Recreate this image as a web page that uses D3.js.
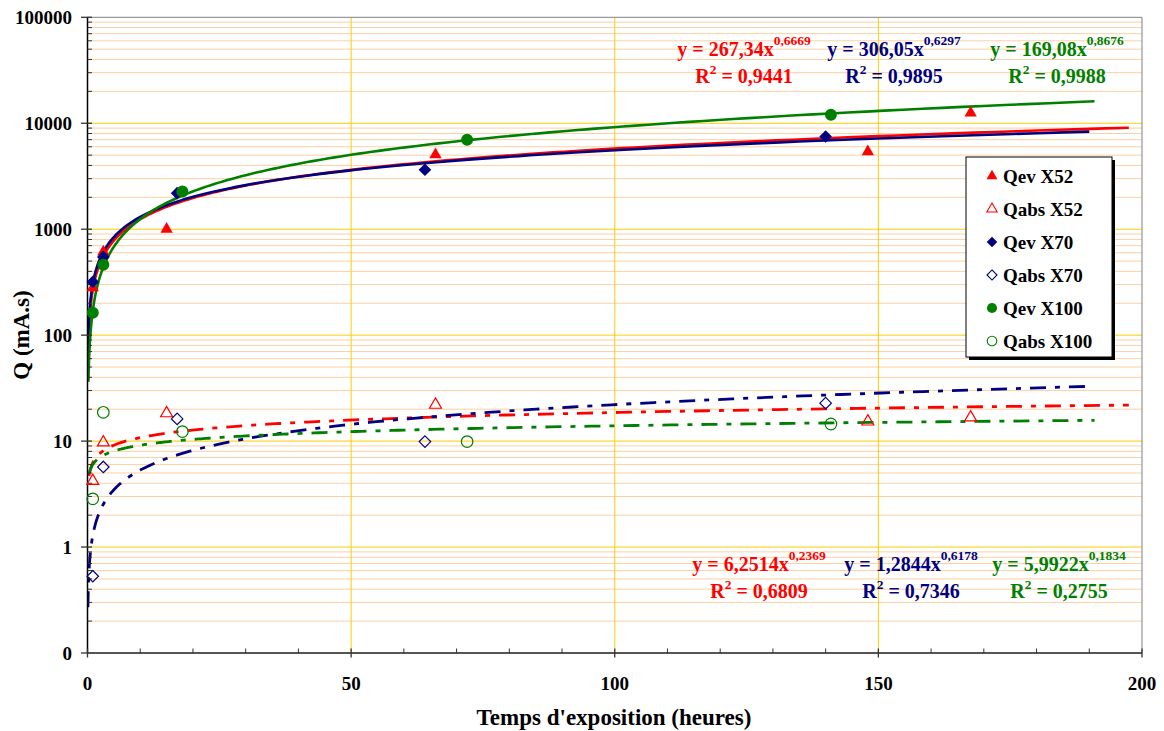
<!DOCTYPE html>
<html>
<head>
<meta charset="utf-8">
<script src="https://cdn.jsdelivr.net/npm/d3@7"></script>
<style>
  html, body { margin: 0; padding: 0; background: #fff; }
  svg text { font-family: "Liberation Serif", "Times New Roman", serif; font-weight: bold; }
</style>
</head>
<body>
<svg id="chart" width="1164" height="731"></svg>
<script>
// ---------- DATA ----------
const seriesNames = ["X52", "X70", "X100"];
const seriesColors = ["#FF0000", "#000080", "#008000"];

const hoursX52 = [1, 3, 15, 66, 148, 167.5];
const qevX52 = [280, 610, 1000, 5050, 5400, 12500];
const qabsX52 = [4.2, 9.7, 18.3, 22, 15.3, 16.7];

const hoursX70 = [1, 3, 17, 64, 140];
const qevX70 = [318, 548, 2190, 3640, 7500];
const qabsX70 = [0.53, 5.7, 16.2, 9.9, 22.8];

const hoursX100 = [1, 3, 18, 72, 141];
const qevX100 = [163, 461, 2270, 6980, 12020];
const qabsX100 = [2.85, 18.7, 12.3, 9.9, 14.5];

// power trendlines y = a * x^b (coefficients shown on chart)
const evCoefA = [267.34, 306.05, 169.08];
const evCoefB = [0.6669, 0.6297, 0.8676];
const evR2 = ["0,9441", "0,9895", "0,9988"];
const evEqA = ["267,34", "306,05", "169,08"];
const evEqB = ["0,6669", "0,6297", "0,8676"];

const absCoefA = [6.2514, 1.2844, 5.9922];
const absCoefB = [0.2369, 0.6178, 0.1834];
const absR2 = ["0,6809", "0,7346", "0,2755"];
const absEqA = ["6,2514", "1,2844", "5,9922"];
const absEqB = ["0,2369", "0,6178", "0,1834"];

const evTrendStart = [0.2, 0.07, 0.17];
const absTrendStart = [0.3, 0.08, 0.35];
const trendEnd = [197.5, 190, 191];

const xTicks = [0, 50, 100, 150, 200];
const yTicks = [0.1, 1, 10, 100, 1000, 10000, 100000];
const yTickLabels = ["0", "1", "10", "100", "1000", "10000", "100000"];

const legendLabels = ["Qev X52", "Qabs X52", "Qev X70", "Qabs X70", "Qev X100", "Qabs X100"];

// ---------- LAYOUT ----------
const svg = d3.select("#chart");
const L = 87.5, R = 1142, T = 17.3, B = 653;
const x = d3.scaleLinear().domain([0, 200]).range([L, R]);
const y = d3.scaleLog().domain([0.1, 100000]).range([B, T]);

svg.append("defs").append("clipPath").attr("id", "plotclip")
  .append("rect").attr("x", L).attr("y", T).attr("width", R - L).attr("height", B - T);

// minor gridlines
const minorVals = [];
for (let e = -1; e < 5; e++) for (let m = 2; m <= 9; m++) minorVals.push(m * Math.pow(10, e));
const grid = svg.append("g");
grid.selectAll("line.minor").data(minorVals).enter().append("line")
  .attr("x1", L).attr("x2", R).attr("y1", d => y(d)).attr("y2", d => y(d))
  .attr("stroke", "#FCD0A4").attr("stroke-width", 1);
grid.selectAll("line.major").data([1, 10, 100, 1000, 10000]).enter().append("line")
  .attr("x1", L).attr("x2", R).attr("y1", d => y(d)).attr("y2", d => y(d))
  .attr("stroke", "#FFCC00").attr("stroke-width", 1);
grid.selectAll("line.vert").data([50, 100, 150]).enter().append("line")
  .attr("x1", d => x(d)).attr("x2", d => x(d)).attr("y1", T).attr("y2", B)
  .attr("stroke", "#FFCC00").attr("stroke-width", 1);

svg.append("line").attr("x1", L).attr("x2", R).attr("y1", T).attr("y2", T).attr("stroke", "#808080").attr("stroke-width", 1);
svg.append("line").attr("x1", R).attr("x2", R).attr("y1", T).attr("y2", B).attr("stroke", "#808080").attr("stroke-width", 1);

// ---------- TRENDLINES ----------
function trendPts(a, b, x0, x1) {
  const n = 300, pts = [];
  const l0 = Math.log(x0), l1 = Math.log(x1);
  for (let i = 0; i <= n; i++) {
    const xv = Math.exp(l0 + (l1 - l0) * i / n);
    pts.push([xv, a * Math.pow(xv, b)]);
  }
  return pts;
}
const line = d3.line().x(d => x(d[0])).y(d => y(d[1]));
const trends = svg.append("g").attr("clip-path", "url(#plotclip)");
for (let i = 0; i < 3; i++) {
  trends.append("path").attr("d", line(trendPts(absCoefA[i], absCoefB[i], absTrendStart[i], trendEnd[i])))
    .attr("fill", "none").attr("stroke", seriesColors[i]).attr("stroke-width", 2.8)
    .attr("stroke-dasharray", "16,9,5,9");
}
for (let i = 0; i < 3; i++) {
  trends.append("path").attr("d", line(trendPts(evCoefA[i], evCoefB[i], evTrendStart[i], trendEnd[i])))
    .attr("fill", "none").attr("stroke", seriesColors[i]).attr("stroke-width", 2.6);
}

// ---------- AXES ----------
const yAxisG = svg.append("g");
yAxisG.append("line").attr("x1", L).attr("x2", L).attr("y1", T).attr("y2", B).attr("stroke", "#000").attr("stroke-width", 1.5);
yAxisG.selectAll("line.ymin").data(minorVals).enter().append("line")
  .attr("x1", L).attr("x2", L + 4.5).attr("y1", d => y(d)).attr("y2", d => y(d))
  .attr("stroke", "#333").attr("stroke-width", 1);
yAxisG.selectAll("line.ymaj").data(yTicks).enter().append("line")
  .attr("x1", L - 6.5).attr("x2", L + 4.5).attr("y1", d => y(d)).attr("y2", d => y(d))
  .attr("stroke", "#333").attr("stroke-width", 1.3);
yAxisG.selectAll("text").data(yTicks).enter().append("text")
  .attr("x", 72).attr("y", d => y(d)).attr("dy", "0.35em")
  .attr("text-anchor", "end").attr("font-size", 19).attr("fill", "#000")
  .text((d, i) => yTickLabels[i]);

const xAxisG = svg.append("g");
xAxisG.append("line").attr("x1", L).attr("x2", R).attr("y1", B).attr("y2", B).attr("stroke", "#555").attr("stroke-width", 2);
xAxisG.selectAll("line.xmin").data(d3.range(10, 200, 10).filter(v => v % 50 !== 0)).enter().append("line")
  .attr("x1", d => x(d)).attr("x2", d => x(d)).attr("y1", B - 4.5).attr("y2", B)
  .attr("stroke", "#333").attr("stroke-width", 1);
xAxisG.selectAll("line.xmaj").data(xTicks).enter().append("line")
  .attr("x1", d => x(d)).attr("x2", d => x(d)).attr("y1", B - 4.5).attr("y2", B + 4.5)
  .attr("stroke", "#333").attr("stroke-width", 1.3);
xAxisG.selectAll("text").data(xTicks).enter().append("text")
  .attr("x", d => x(d)).attr("y", 690)
  .attr("text-anchor", "middle").attr("font-size", 19).attr("fill", "#000")
  .text(d => d);

svg.append("text").attr("x", 614).attr("y", 725).attr("text-anchor", "middle")
  .attr("font-size", 23).text("Temps d'exposition (heures)");
svg.append("text").attr("transform", "translate(29,335) rotate(-90)").attr("text-anchor", "middle")
  .attr("font-size", 23).text("Q (mA.s)");

// ---------- MARKERS ----------
const squareDiamond = {
  draw(ctx, size) {
    const r = Math.sqrt(size / 2);
    ctx.moveTo(0, -r); ctx.lineTo(r, 0); ctx.lineTo(0, r); ctx.lineTo(-r, 0); ctx.closePath();
  }
};
const hours = [hoursX52, hoursX70, hoursX100];
const qev = [qevX52, qevX70, qevX100];
const qabs = [qabsX52, qabsX70, qabsX100];
const symTypes = [d3.symbolTriangle, squareDiamond, d3.symbolCircle];
const symSizes = [66, 80, 113];
const symSizesOpen = [62, 66, 105];

const marks = svg.append("g");
for (let i = 0; i < 3; i++) {
  const ev = hours[i].map((h, k) => [h, qev[i][k]]);
  const ab = hours[i].map((h, k) => [h, qabs[i][k]]);
  marks.selectAll(null).data(ev).enter().append("path")
    .attr("d", d3.symbol().type(symTypes[i]).size(symSizes[i]))
    .attr("transform", d => `translate(${x(d[0])},${y(d[1])})`)
    .attr("fill", seriesColors[i]);
  marks.selectAll(null).data(ab).enter().append("path")
    .attr("d", d3.symbol().type(symTypes[i]).size(symSizesOpen[i]))
    .attr("transform", d => `translate(${x(d[0])},${y(d[1])})`)
    .attr("fill", "none").attr("stroke", seriesColors[i]).attr("stroke-width", 1.2);
}

// ---------- EQUATIONS ----------
function equation(cx, by, color, a, b, r2) {
  const t = svg.append("text").attr("x", cx).attr("y", by).attr("text-anchor", "middle")
    .attr("font-size", 20).attr("fill", color);
  t.append("tspan").text(`y = ${a}x`);
  t.append("tspan").attr("font-size", 13.5).attr("dy", -11).text(b);
  const r = svg.append("text").attr("x", cx).attr("y", by + 27).attr("text-anchor", "middle")
    .attr("font-size", 20).attr("fill", color);
  r.append("tspan").text("R");
  r.append("tspan").attr("font-size", 13.5).attr("dy", -9).text("2");
  r.append("tspan").attr("dy", 9).text(` = ${r2}`);
}
const evEqX = [744, 894, 1057];
const absEqX = [759, 911, 1059];
for (let i = 0; i < 3; i++) {
  equation(evEqX[i], 56, seriesColors[i], evEqA[i], evEqB[i], evR2[i]);
  equation(absEqX[i], 571, seriesColors[i], absEqA[i], absEqB[i], absR2[i]);
}

// ---------- LEGEND ----------
const lg = svg.append("g");
const lx = 966, ly = 157, lw = 146, lh = 200;
lg.append("rect").attr("x", lx + 3).attr("y", ly + 3).attr("width", lw).attr("height", lh).attr("fill", "#000");
lg.append("rect").attr("x", lx).attr("y", ly).attr("width", lw).attr("height", lh)
  .attr("fill", "#fff").attr("stroke", "#000").attr("stroke-width", 1);
const legSizes = [52, 56, 80];
legendLabels.forEach((lab, k) => {
  const i = Math.floor(k / 2), open = k % 2 === 1;
  const cy = 176 + k * 33;
  lg.append("path")
    .attr("d", d3.symbol().type(symTypes[i]).size(open ? legSizes[i] * 0.9 : legSizes[i]))
    .attr("transform", `translate(992,${cy})`)
    .attr("fill", open ? "none" : seriesColors[i])
    .attr("stroke", open ? seriesColors[i] : "none").attr("stroke-width", 1.1);
  lg.append("text").attr("x", 1003).attr("y", cy + 6.5).attr("font-size", 19).attr("fill", "#000").text(lab);
});
</script>
</body>
</html>
